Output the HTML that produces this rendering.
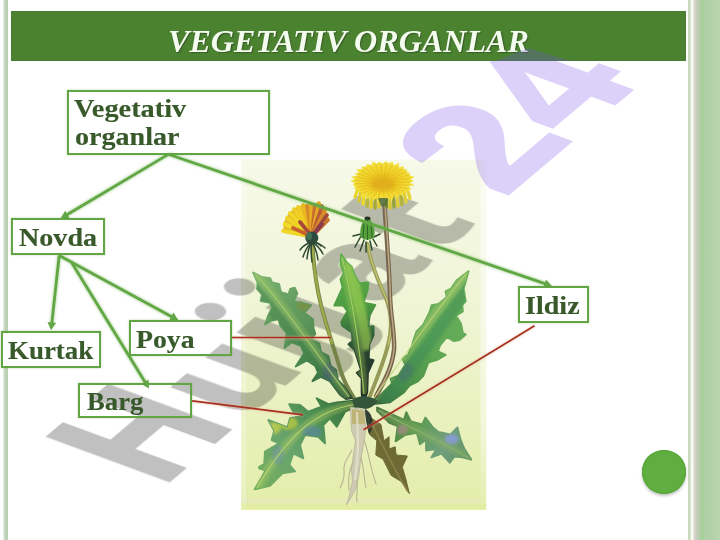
<!DOCTYPE html>
<html>
<head>
<meta charset="utf-8">
<title>Vegetativ organlar</title>
<style>
html,body{margin:0;padding:0;}
body{width:720px;height:540px;position:relative;overflow:hidden;background:#ffffff;font-family:"Liberation Serif",serif;}
.abs{position:absolute;}
#leftbar{left:3px;top:0;width:5px;height:540px;background:linear-gradient(to right,#f0f4ea 0%,#d2decb 25%,#bcd1b6 55%,#b8d0b4 100%);}
#rightbar{left:686px;top:0;width:34px;height:540px;
 background:linear-gradient(to right,
  #ffffff 0px,#ffffff 2px,
  #c9dcc0 2.5px,#c4d9bb 4px,
  #f4f8ee 5px,#fbfcf4 6.5px,
  #e6e6de 7.5px,#cfcfc6 9.5px,
  #bdccb4 12px,#a9cf9d 15.5px,#a4d098 17px,
  #b0d0a6 18.5px,#b2d1a8 24px,#b9d7ae 34px);}
#header{left:11px;top:11px;width:675px;height:50px;background:#4a8230;box-shadow:inset 0 0 0 1px #4c7a38;}
#title{left:168px;top:23.6px;transform:scaleX(1.02);height:36px;line-height:36px;white-space:nowrap;color:#f4fbef;font-weight:bold;font-style:italic;font-size:31.5px;
 transform-origin:0 50%;text-shadow:1px 1px 1px rgba(40,60,30,.55);}
.box{position:absolute;box-sizing:border-box;background:transparent;border:2px solid #62a545;box-shadow:0 0 2px rgba(98,165,69,.45);}
.lbl{position:absolute;white-space:nowrap;color:#38592a;-webkit-text-stroke:0.15px #38592a;font-weight:bold;font-size:25px;line-height:28px;transform-origin:0 0;}
</style>
</head>
<body>
<div id="leftbar" class="abs"></div>
<div id="rightbar" class="abs"></div>

<!-- PLANT -->
<svg id="pbg" class="abs" style="left:0;top:0" width="720" height="540" viewBox="0 0 720 540">
<defs>
<linearGradient id="bgp" x1="0" y1="0" x2="0" y2="1">
<stop offset="0" stop-color="#f7f9e9"/><stop offset="0.4" stop-color="#f0f5d7"/><stop offset="0.8" stop-color="#e8f0b9"/><stop offset="1" stop-color="#e3edaa"/>
</linearGradient>
<linearGradient id="bgs" x1="0" y1="0" x2="0" y2="1">
<stop offset="0" stop-color="#ffffff" stop-opacity="0.5"/><stop offset="0.75" stop-color="#ffffff" stop-opacity="0.45"/><stop offset="1" stop-color="#ffffff" stop-opacity="0"/>
</linearGradient>
</defs>
<rect x="241" y="159.6" width="245.2" height="350.2" fill="url(#bgp)"/>
<rect x="480.5" y="159.6" width="5.7" height="350.2" fill="url(#bgs)"/>
<rect x="241" y="159.6" width="5" height="350.2" fill="#ffffff" opacity="0.25"/>
<rect x="241" y="498.2" width="240" height="5.3" fill="#e6e8c8" opacity="0.4"/>
<rect x="241" y="503.5" width="245" height="6.3" fill="#e4ee96" opacity="0.4"/>
</svg>
<!-- WATERMARK -->
<svg id="wm" class="abs" style="left:0;top:0" width="720" height="540" viewBox="0 0 720 540">
<g transform="matrix(0.0568 -0.048 0.0876 0.0323 161.4 489.1)" font-family="Liberation Sans, sans-serif" font-weight="bold" font-size="2048">
<g opacity="0.25" fill="#000" stroke="#000" stroke-width="50" stroke-linejoin="miter">
<text transform="translate(41.6,-24) scale(0.879,0.966)">H</text>
<text transform="translate(1437,0) scale(0.882,0.8)">u</text>
<text transform="translate(2553,0) scale(1,0.8)">&#x237;</text>
<text transform="translate(3065,0) scale(1,0.8)">&#x237;</text>
<ellipse cx="2838" cy="-1280" rx="150" ry="150" stroke="none"/>
<ellipse cx="3350" cy="-1280" rx="150" ry="150" stroke="none"/>
<text transform="translate(3805.6,0) scale(0.824,0.8)">a</text>
<path transform="scale(1,-1)" stroke="none" d="M5300,1205 L5020,1205 L5020,870 L4880,870 L4880,650 L5020,650 L5020,240 Q5020,-25 5300,-25 Q5420,-25 5530,5 L5530,205 Q5450,185 5400,185 Q5300,185 5300,310 L5300,650 L5530,650 L5530,870 L5300,870 Z"/>
</g>
<g opacity="0.25" fill="#774bea" stroke="#774bea" stroke-width="50" stroke-linejoin="miter">
<text transform="translate(6066.5,-24) scale(1.092,0.966)">2</text>
<text transform="translate(7315.6,-24) scale(1.044,0.966)">4</text>
</g>
</g>
</svg>
<svg id="plant" class="abs" style="left:0;top:0" width="720" height="540" viewBox="0 0 720 540">
<!--PLANTBODY-->
<defs>
<filter id="soft" x="-5%" y="-5%" width="110%" height="110%"><feGaussianBlur stdDeviation="0.5"/></filter>
<filter id="soft2" x="-20%" y="-20%" width="140%" height="140%"><feGaussianBlur stdDeviation="1.6"/></filter>
<linearGradient id="gL" gradientUnits="userSpaceOnUse" x1="254" y1="273" x2="350" y2="398"><stop offset="0" stop-color="#7ab472"/><stop offset="0.3" stop-color="#669e60"/><stop offset="0.6" stop-color="#4e8a52"/><stop offset="0.85" stop-color="#386844"/><stop offset="1" stop-color="#2a4830"/></linearGradient>
<linearGradient id="gC" gradientUnits="userSpaceOnUse" x1="341" y1="255" x2="365" y2="395"><stop offset="0" stop-color="#5eac4c"/><stop offset="0.38" stop-color="#4e9c42"/><stop offset="0.55" stop-color="#356a3c"/><stop offset="0.7" stop-color="#27422e"/><stop offset="1" stop-color="#1f2a24"/></linearGradient>
<linearGradient id="gR" gradientUnits="userSpaceOnUse" x1="468" y1="272" x2="372" y2="402"><stop offset="0" stop-color="#6eb25e"/><stop offset="0.5" stop-color="#60a854"/><stop offset="0.8" stop-color="#4a9048"/><stop offset="1" stop-color="#34683a"/></linearGradient>
<linearGradient id="gLL" gradientUnits="userSpaceOnUse" x1="356" y1="403" x2="256" y2="489"><stop offset="0" stop-color="#2e6234"/><stop offset="0.25" stop-color="#4a8c50"/><stop offset="0.6" stop-color="#68a46c"/><stop offset="1" stop-color="#74ae5e"/></linearGradient>
<linearGradient id="gLR" gradientUnits="userSpaceOnUse" x1="378" y1="409" x2="471" y2="459"><stop offset="0" stop-color="#42703a"/><stop offset="0.4" stop-color="#5e9a52"/><stop offset="0.72" stop-color="#719f7e"/><stop offset="1" stop-color="#5f9460"/></linearGradient>
<radialGradient id="gF" cx="0.5" cy="0.5" r="0.6"><stop offset="0" stop-color="#e2ae1c"/><stop offset="0.4" stop-color="#efd026"/><stop offset="1" stop-color="#f5e540"/></radialGradient>
<clipPath id="cpL"><path d="M253.2,272.6 L261.4,277 L270.2,278.2 L272.1,282.6 L279,283.9 L280.9,292.1 L288.5,294.6 L290.3,288.9 L294.7,287.7 L297.3,293.3 L293.5,301.5 L300.4,302.2 L311.1,305.3 L304.2,312.9 L313,319.2 L313.6,328 L312.5,325.6 L315.3,333.9 L311.1,339.4 L319.4,343.6 L320.8,351.9 L328.5,356.1 L330.6,365.8 L336.1,370 L337.5,379.7 L344.4,386.7 L350,395 L352,398 L346,399 L340.3,395 L336.1,389.4 L329.9,381.1 L320.8,376.9 L312.5,381.1 L318.1,372.8 L315.3,365.8 L306.9,360.3 L295.8,366.5 L304.2,353.3 L300.7,345.7 L291.7,342.2 L284.7,347.8 L286.6,333 L280.3,325.5 L278.4,319.2 L272.1,320.4 L265.2,324.2 L268.3,315.4 L272.1,307.8 L270.2,302.8 L260.7,300.9 L262,294.6 L257,288.9 L257.6,282.6Z"/></clipPath>
<clipPath id="cpC"><path d="M341.2,254.2 L346.8,262.5 L351.7,266.7 L354.4,275 L359.3,283.3 L368.3,282.6 L367.6,290.3 L363.5,302.8 L375.3,304.9 L369.7,315.3 L368.3,325 L367.9,326.9 L373.5,326.2 L373.5,335.3 L369.3,344.3 L368.6,358.9 L373.5,360.3 L367.9,372.8 L367.2,392.2 L366,396 L362,396 L361.7,392.2 L361.7,378.3 L356.8,372.8 L361,370 L357.5,358.9 L354.7,349.9 L348.5,344.3 L352.6,340.8 L351.9,332.5 L342.2,325.6 L341.2,322.2 L347.5,311.1 L343.3,305.6 L334.3,305.6 L342.6,287.5 L340.6,279.2 L344,272.2 L340.6,265.3Z"/></clipPath>
<clipPath id="cpR"><path d="M468.5,271.2 L465.7,281.7 L463.6,288.6 L465.7,301.1 L462.2,305.3 L462.9,311.5 L456,315.7 L460.8,323.3 L462.9,333.1 L465.7,334.4 L459.4,340 L453.9,341.1 L446.9,336.9 L440,345.3 L437.9,351.5 L445.6,355 L437.2,359.9 L428.2,362.6 L423.3,375.8 L417.8,381.4 L409.4,385.6 L403.9,392.5 L390,402.2 L378.9,403.6 L372,404 L368,402 L370.6,400.8 L377.5,398.1 L384.4,391.1 L392.1,383.5 L390.7,378.6 L398.3,375.8 L405.3,364.7 L402.5,358.5 L408.1,355 L412.2,345.3 L413.6,340 L416.4,331.7 L423.3,324.7 L429.6,312.2 L431.7,305.3 L438.6,303.9 L446.9,296.9 L445.6,291.4 L451.1,288.6 L456.7,280.3Z"/></clipPath>
<clipPath id="cpLL"><path d="M356.7,401.7 L353.3,400.8 L336.7,402.5 L328.3,404.2 L316.7,398.3 L321.7,406.7 L308.3,411.7 L300,405 L289.2,404.2 L293.3,411.7 L303.3,415.8 L290,418.3 L287.5,427.5 L268.3,420 L274.2,430.8 L271.7,440 L279.2,443.3 L265,451.7 L264.2,465 L259.2,468.3 L266.7,470.8 L265.8,451.1 L265.1,463.6 L258.9,467.1 L265.8,469.9 L261.7,477.5 L254.7,489.3 L270,485.8 L276.9,478.9 L282.5,473.3 L295,471.3 L289.4,465 L293.3,453.3 L303.3,458.3 L300,445 L305,435 L318.3,436.7 L325,443.3 L323.3,425 L330,418.3 L336.7,426.7 L345,411.7 L356.7,406.7Z"/></clipPath>
<clipPath id="cpLR"><path d="M377.2,407.6 L391,413.8 L404,419.9 L406.3,412.2 L410.8,421.4 L422.3,424.4 L425.4,417.6 L432.2,426.7 L438.3,432.1 L450.6,434.4 L457.4,427.5 L460.5,439.7 L464.3,448.9 L471.2,459.6 L462.8,457.3 L454.4,456.5 L449.8,462.6 L441.4,453.5 L431.5,457.3 L436.8,448.9 L426.1,450.4 L426.1,439.7 L420,444.3 L416.9,432.8 L404.7,435.1 L395.6,441.3 L397.8,426 L389.4,422.9 L377.2,410.7Z"/></clipPath>
</defs>
<g filter="url(#soft)">
<g fill="none" stroke-linecap="round">
<path d="M312.4,246 C313.5,262 316,285 321,305 C326,325 333,345 341,372 C345,384 350,392 354,398" stroke="#76844a" stroke-width="4"/>
<path d="M312.4,246 C313.5,262 316,285 321,305 C324,318 328,330 332,343" stroke="#9caa48" stroke-width="2.4"/>
<path d="M367.5,244 C369,258 376,276 385,296 C392,312 392,330 388,345 C384,362 376,380 370,396" stroke="#979a58" stroke-width="3.9"/>
<path d="M367.8,244 C369.3,258 376.3,276 385.3,296 C392.3,312 392.3,330 388.3,345" stroke="#bcc070" stroke-width="1.6"/>
<path d="M384.5,205 C386,230 389,262 390,296 C391,320 395,335 394,350 C392,368 384,382 376,396" stroke="#77654f" stroke-width="4.5"/>
<path d="M385,205 C386.5,230 389.5,262 390.3,296 C391.3,320 395.3,335 394,350 C392,368 384,382 377,394" stroke="#bda984" stroke-width="1.5"/>
</g>
<path d="M253.2,272.6 L261.4,277 L270.2,278.2 L272.1,282.6 L279,283.9 L280.9,292.1 L288.5,294.6 L290.3,288.9 L294.7,287.7 L297.3,293.3 L293.5,301.5 L300.4,302.2 L311.1,305.3 L304.2,312.9 L313,319.2 L313.6,328 L312.5,325.6 L315.3,333.9 L311.1,339.4 L319.4,343.6 L320.8,351.9 L328.5,356.1 L330.6,365.8 L336.1,370 L337.5,379.7 L344.4,386.7 L350,395 L352,398 L346,399 L340.3,395 L336.1,389.4 L329.9,381.1 L320.8,376.9 L312.5,381.1 L318.1,372.8 L315.3,365.8 L306.9,360.3 L295.8,366.5 L304.2,353.3 L300.7,345.7 L291.7,342.2 L284.7,347.8 L286.6,333 L280.3,325.5 L278.4,319.2 L272.1,320.4 L265.2,324.2 L268.3,315.4 L272.1,307.8 L270.2,302.8 L260.7,300.9 L262,294.6 L257,288.9 L257.6,282.6Z" fill="url(#gL)" stroke="url(#gL)" stroke-width="2" stroke-linejoin="round"/>
<g clip-path="url(#cpL)">
<path d="M255,274 C280,300 310,345 349,397" fill="none" stroke="#a8cc6a" stroke-width="9" opacity="0.35" filter="url(#soft2)"/>
<path d="M250,284 C276,312 304,352 340,400" fill="none" stroke="#3f8048" stroke-width="11" opacity="0.45" filter="url(#soft2)"/><ellipse cx="306" cy="305" rx="9" ry="6" fill="#8a8a3a" opacity="0.55" filter="url(#soft2)"/><ellipse cx="329" cy="372" rx="6" ry="10" fill="#4a5a7a" opacity="0.5" filter="url(#soft2)"/>
</g>
<path d="M255,274 C280,300 310,345 349,397" fill="none" stroke="#a8cc6a" stroke-width="1.1" opacity="0.9"/>
<path d="M341.2,254.2 L346.8,262.5 L351.7,266.7 L354.4,275 L359.3,283.3 L368.3,282.6 L367.6,290.3 L363.5,302.8 L375.3,304.9 L369.7,315.3 L368.3,325 L367.9,326.9 L373.5,326.2 L373.5,335.3 L369.3,344.3 L368.6,358.9 L373.5,360.3 L367.9,372.8 L367.2,392.2 L366,396 L362,396 L361.7,392.2 L361.7,378.3 L356.8,372.8 L361,370 L357.5,358.9 L354.7,349.9 L348.5,344.3 L352.6,340.8 L351.9,332.5 L342.2,325.6 L341.2,322.2 L347.5,311.1 L343.3,305.6 L334.3,305.6 L342.6,287.5 L340.6,279.2 L344,272.2 L340.6,265.3Z" fill="url(#gC)" stroke="url(#gC)" stroke-width="2" stroke-linejoin="round"/>
<g clip-path="url(#cpC)">
<path d="M342,257 C350,290 358,330 364,394" fill="none" stroke="#a6d060" stroke-width="9" opacity="0.35" filter="url(#soft2)"/>
<path d="M349,262 C357,292 364,322 368,350" fill="none" stroke="#a6d452" stroke-width="10" opacity="0.6" filter="url(#soft2)"/>
</g>
<path d="M342,257 C350,290 358,330 364,394" fill="none" stroke="#a6d060" stroke-width="1.1" opacity="0.9"/>
<path d="M468.5,271.2 L465.7,281.7 L463.6,288.6 L465.7,301.1 L462.2,305.3 L462.9,311.5 L456,315.7 L460.8,323.3 L462.9,333.1 L465.7,334.4 L459.4,340 L453.9,341.1 L446.9,336.9 L440,345.3 L437.9,351.5 L445.6,355 L437.2,359.9 L428.2,362.6 L423.3,375.8 L417.8,381.4 L409.4,385.6 L403.9,392.5 L390,402.2 L378.9,403.6 L372,404 L368,402 L370.6,400.8 L377.5,398.1 L384.4,391.1 L392.1,383.5 L390.7,378.6 L398.3,375.8 L405.3,364.7 L402.5,358.5 L408.1,355 L412.2,345.3 L413.6,340 L416.4,331.7 L423.3,324.7 L429.6,312.2 L431.7,305.3 L438.6,303.9 L446.9,296.9 L445.6,291.4 L451.1,288.6 L456.7,280.3Z" fill="url(#gR)" stroke="url(#gR)" stroke-width="2" stroke-linejoin="round"/>
<g clip-path="url(#cpR)">
<path d="M467,273 C440,305 405,355 371,402" fill="none" stroke="#c2d678" stroke-width="9" opacity="0.35" filter="url(#soft2)"/>
<path d="M474,282 C448,315 418,360 384,404" fill="none" stroke="#3e8a58" stroke-width="12" opacity="0.5" filter="url(#soft2)"/><ellipse cx="405" cy="372" rx="7" ry="10" fill="#4a6a72" opacity="0.45" filter="url(#soft2)" transform="rotate(35 405 372)"/>
</g>
<path d="M467,273 C440,305 405,355 371,402" fill="none" stroke="#c2d678" stroke-width="1.1" opacity="0.9"/>
<path d="M356.7,401.7 L353.3,400.8 L336.7,402.5 L328.3,404.2 L316.7,398.3 L321.7,406.7 L308.3,411.7 L300,405 L289.2,404.2 L293.3,411.7 L303.3,415.8 L290,418.3 L287.5,427.5 L268.3,420 L274.2,430.8 L271.7,440 L279.2,443.3 L265,451.7 L264.2,465 L259.2,468.3 L266.7,470.8 L265.8,451.1 L265.1,463.6 L258.9,467.1 L265.8,469.9 L261.7,477.5 L254.7,489.3 L270,485.8 L276.9,478.9 L282.5,473.3 L295,471.3 L289.4,465 L293.3,453.3 L303.3,458.3 L300,445 L305,435 L318.3,436.7 L325,443.3 L323.3,425 L330,418.3 L336.7,426.7 L345,411.7 L356.7,406.7Z" fill="url(#gLL)" stroke="url(#gLL)" stroke-width="2" stroke-linejoin="round"/>
<g clip-path="url(#cpLL)">
<path d="M356,404 C320,410 290,430 257,488" fill="none" stroke="#b9d46a" stroke-width="9" opacity="0.35" filter="url(#soft2)"/>
<ellipse cx="288" cy="423" rx="10" ry="7" fill="#c3cf3e" opacity="0.7" filter="url(#soft2)"/><ellipse cx="274" cy="428" rx="7" ry="6" fill="#d0d648" opacity="0.7" filter="url(#soft2)"/><ellipse cx="312" cy="432" rx="10" ry="6" fill="#5a86a8" opacity="0.6" filter="url(#soft2)"/><ellipse cx="278" cy="455" rx="6" ry="10" fill="#6a8fa8" opacity="0.5" filter="url(#soft2)"/>
</g>
<path d="M356,404 C320,410 290,430 257,488" fill="none" stroke="#b9d46a" stroke-width="1.1" opacity="0.9"/>
<path d="M377.2,407.6 L391,413.8 L404,419.9 L406.3,412.2 L410.8,421.4 L422.3,424.4 L425.4,417.6 L432.2,426.7 L438.3,432.1 L450.6,434.4 L457.4,427.5 L460.5,439.7 L464.3,448.9 L471.2,459.6 L462.8,457.3 L454.4,456.5 L449.8,462.6 L441.4,453.5 L431.5,457.3 L436.8,448.9 L426.1,450.4 L426.1,439.7 L420,444.3 L416.9,432.8 L404.7,435.1 L395.6,441.3 L397.8,426 L389.4,422.9 L377.2,410.7Z" fill="url(#gLR)" stroke="url(#gLR)" stroke-width="2" stroke-linejoin="round"/>
<g clip-path="url(#cpLR)">
<path d="M378,410 C410,428 440,440 470,459" fill="none" stroke="#8fb46a" stroke-width="9" opacity="0.35" filter="url(#soft2)"/>
<ellipse cx="402" cy="430" rx="6" ry="5" fill="#b08a8a" opacity="0.7" filter="url(#soft2)"/><ellipse cx="452" cy="439" rx="7" ry="5" fill="#8c9be0" opacity="0.8" filter="url(#soft2)"/>
</g>
<path d="M378,410 C410,428 440,440 470,459" fill="none" stroke="#8fb46a" stroke-width="1.1" opacity="0.9"/>
<path d="M371,418 L380.9,424.4 L384,440.7 L389.1,436.7 L389.1,448.9 L395.2,446.8 L396.2,455 L407.4,456 L402.3,467.2 L405.4,477.4 L409.4,493.7 L401.3,481.5 L391.1,475.4 L389.1,471.3 L383,459.1 L375.8,455 L376.8,440.7 L369.7,434.6 L368,428Z" fill="#6e6a34" stroke="#6e6a34" stroke-width="1" stroke-linejoin="round"/>
<path d="M372,424 C382,445 395,470 408,492" fill="none" stroke="#8f8a4a" stroke-width="1.6" opacity="0.8"/>
<path d="M352,400 C358,395 370,395 378,401 C375,405 371,408 366,409 L354,407 Z" fill="#35553a"/>
<path d="M365,409 C369,411 372,415 372.5,421 C373,427 371,432 369,434 C367,428 366,420 365,414 Z" fill="#1f2d22" opacity="0.9"/>
<path d="M350.4,407 L351.4,430.5 L355.5,440.7 L353.4,455 L351.4,469.2 L352.4,481.5 L349.3,495.7 L346.3,505 L350.4,498.8 L355.5,489.6 L358.5,477.4 L360.5,461.1 L363.6,444.8 L365.6,430.5 L364.6,410Z" fill="#cfcab2" stroke="#b9b49a" stroke-width="0.8"/>
<path d="M352,409 L364,411 L365,424 L352,424 Z" fill="#b9ae6a" opacity="0.8"/>
<path d="M357,412 C358,435 359,455 355,480" fill="none" stroke="#e6e2cc" stroke-width="2.2" opacity="0.8"/>
<g fill="none" stroke="#b9b492" stroke-width="1.1" stroke-linecap="round">
<path d="M352,450 C348,458 343,462 344,472 C345,478 342,484 340,488"/>
<path d="M353,462 C349,470 348,480 349,490"/>
<path d="M364,440 C368,450 369,460 372,470 C373,476 375,480 376,484"/>
<path d="M361,458 C364,468 364,478 366,488"/>
<path d="M357,480 C358,488 356,496 357,502"/>
</g>
<g stroke-linecap="round" fill="none">
<path d="M358,188 L355,197" stroke="#e8d62e" stroke-width="3.3"/>
<path d="M361.5,188 L359,201" stroke="#d8c832" stroke-width="3.3"/>
<path d="M365,188 L363,204" stroke="#ecd82c" stroke-width="3.3"/>
<path d="M368.5,188 L367,206" stroke="#b9b83a" stroke-width="3.3"/>
<path d="M372,188 L371,207.5" stroke="#e6d02a" stroke-width="3.3"/>
<path d="M375.5,188 L375,208" stroke="#a4aa38" stroke-width="3.3"/>
<path d="M379,188 L379,207" stroke="#e0cc2c" stroke-width="3.3"/>
<path d="M386,188 L386.5,207" stroke="#7b8a36" stroke-width="3.3"/>
<path d="M389.5,188 L390,208" stroke="#d9c92e" stroke-width="3.3"/>
<path d="M393,188 L394,207" stroke="#9aa23a" stroke-width="3.3"/>
<path d="M396.5,188 L398,206" stroke="#e4d030" stroke-width="3.3"/>
<path d="M400,188 L402,204.5" stroke="#b4b43a" stroke-width="3.3"/>
<path d="M403.5,188 L406,202" stroke="#e2d030" stroke-width="3.3"/>
<path d="M407,188 L410,198.5" stroke="#e6d634" stroke-width="3.3"/>
</g>
<path d="M413.2,181 L408.9,182.7 L413.6,185.1 L407.6,186 L411.2,188.9 L406,189.4 L406.7,191.8 L403,192.4 L402.5,194.7 L398.6,194.7 L397.5,197 L393.3,195.9 L392.2,199.2 L388.5,198.2 L385.7,199.5 L382.6,197.5 L379.3,200.4 L376.6,198.4 L372.9,199.5 L371.6,196.4 L366.3,198.5 L367.2,194.1 L361,195.9 L362.6,192.1 L358.3,191.9 L359.8,189.2 L354.7,188.7 L355.7,186.4 L353.1,184.9 L355.1,182.8 L351,181 L355.7,179.2 L351.9,177 L357.7,176 L355.4,173.5 L359.5,172.8 L356.9,169.4 L362.4,169.7 L362.1,166.9 L366.3,167.1 L367.1,164.4 L371.7,165.8 L372.7,162.1 L376.8,164 L379.4,162.3 L382.6,163.9 L385.9,161.8 L388.5,163.8 L392.5,162.2 L393.5,165.8 L398.9,163.5 L398.1,167.8 L403.3,166.8 L403.5,169.3 L406.9,170.1 L406.3,172.5 L409.8,173.5 L409.1,175.7 L413.9,176.9 L410.1,179.2Z" fill="url(#gF)" stroke="#f2e03a" stroke-width="0.8" stroke-linejoin="round"/>
<g stroke="#d9a51a" stroke-width="0.9" opacity="0.5" fill="none">
<path d="M388.9,183.2 L410.3,181.9"/>
<path d="M388.7,184 L409.4,185.4"/>
<path d="M388.2,184.8 L407.3,188.8"/>
<path d="M387.5,185.4 L404.2,191.8"/>
<path d="M386.6,186 L400.1,194.3"/>
<path d="M385.5,186.5 L395.2,196.3"/>
<path d="M384.2,186.8 L389.8,197.6"/>
<path d="M382.9,186.9 L384.1,198.1"/>
<path d="M381.6,186.9 L378.3,198"/>
<path d="M380.4,186.6 L372.7,197"/>
<path d="M379.2,186.3 L367.6,195.4"/>
<path d="M378.2,185.8 L363,193.2"/>
<path d="M377.3,185.1 L359.4,190.4"/>
<path d="M376.7,184.4 L356.7,187.2"/>
<path d="M376.4,183.6 L355.2,183.7"/>
<path d="M376.3,182.8 L354.9,180.1"/>
<path d="M376.5,182 L355.8,176.6"/>
<path d="M377,181.2 L357.9,173.2"/>
<path d="M377.7,180.6 L361,170.2"/>
<path d="M378.6,180 L365.1,167.7"/>
<path d="M379.7,179.5 L370,165.7"/>
<path d="M381,179.2 L375.4,164.4"/>
<path d="M382.3,179.1 L381.1,163.9"/>
<path d="M383.6,179.1 L386.9,164"/>
<path d="M384.8,179.4 L392.5,165"/>
<path d="M386,179.7 L397.6,166.6"/>
<path d="M387,180.2 L402.2,168.8"/>
<path d="M387.9,180.9 L405.8,171.6"/>
<path d="M388.5,181.6 L408.5,174.8"/>
<path d="M388.8,182.4 L410,178.3"/>
</g>
<ellipse cx="383" cy="186" rx="12" ry="6" fill="#dba21a" opacity="0.45" filter="url(#soft2)"/>
<path d="M378,198 L388,198 L386.5,206 L381,206 Z" fill="#55703a" opacity="0.9"/>
<path d="M311.8,237.5 L284,232 L285,222 L290,213 L298,207.5 L306,205 L319,203.5 L325,209 L328,219 L323,226 Z" fill="#e6bd2a" stroke="#e6bd2a" stroke-width="2" stroke-linejoin="round"/>
<path d="M311.8,237.5 L300,215 L306,207 L318,206 L326,214 L326,222 Z" fill="#c9702c" opacity="0.55"/>
<g stroke-linecap="round" fill="none">
<path d="M311.8,236.5 L283,231" stroke="#f0d82a" stroke-width="3.8"/>
<path d="M311.8,236.5 L284.5,224" stroke="#f2dc2c" stroke-width="3.8"/>
<path d="M311.8,236.5 L287,218" stroke="#efd428" stroke-width="3.8"/>
<path d="M311.8,236.5 L290,213" stroke="#f1d62a" stroke-width="3.8"/>
<path d="M311.8,236.5 L294,209" stroke="#eecf26" stroke-width="3.8"/>
<path d="M311.8,236.5 L298,207" stroke="#f0cc24" stroke-width="3.8"/>
<path d="M311.8,236.5 L303,205" stroke="#e9b822" stroke-width="3.8"/>
<path d="M311.8,236.5 L307,206" stroke="#d98a2a" stroke-width="3.8"/>
<path d="M311.8,236.5 L311,204" stroke="#e8b020" stroke-width="3.8"/>
<path d="M311.8,236.5 L315,205" stroke="#c96a30" stroke-width="3.8"/>
<path d="M311.8,236.5 L319,203" stroke="#e4a824" stroke-width="3.8"/>
<path d="M311.8,236.5 L322,206" stroke="#b85a34" stroke-width="3.8"/>
<path d="M311.8,236.5 L325,210" stroke="#d88a2c" stroke-width="3.8"/>
<path d="M311.8,236.5 L327,215" stroke="#a04a3a" stroke-width="3.8"/>
<path d="M311.8,236.5 L328,220" stroke="#c8742e" stroke-width="3.8"/>
<path d="M311.8,236.5 L322,224" stroke="#8a3a48" stroke-width="3.8"/>
<path d="M311.8,236.5 L300,222" stroke="#a84a3a" stroke-width="3.8"/>
<path d="M311.8,236.5 L293,228" stroke="#c8642e" stroke-width="3.8"/>
</g>
<ellipse cx="311.8" cy="238" rx="6.5" ry="6.5" fill="#2f4a3e"/>
<ellipse cx="309" cy="236" rx="3" ry="4" fill="#4a7a5a" opacity="0.8"/>
<g stroke="#2f4a34" stroke-width="1.5" stroke-linecap="round" fill="none">
<path d="M311.8,242 Q305.9,247.5 303,257"/>
<path d="M311.8,242 Q307.9,248.5 307,259"/>
<path d="M311.8,242 Q310.4,250 312,262"/>
<path d="M311.8,242 Q316.4,249 318,260"/>
<path d="M311.8,242 Q318.9,246 323,254"/>
<path d="M311.8,242 Q319.9,243 325,248"/>
<path d="M311.8,242 Q304.4,244 300,250"/>
<path d="M311.8,242 Q317.9,242 321,246"/>
</g>
<g stroke="#2f4a2c" stroke-width="1.5" stroke-linecap="round" fill="none">
<path d="M361,234 L353,236"/>
<path d="M361,236 L355,247"/>
<path d="M364,240 L360,251"/>
<path d="M370,241 L372,250"/>
<path d="M374,237 L380,234"/>
<path d="M373,239 L377,246"/>
<path d="M366,242 L366,252"/>
</g>
<path d="M367.5,217 C372,220 375.5,228 374.5,236 C373,241 362,241 360.5,236 C359.5,228 362,220 367.5,217 Z" fill="#57a03a"/>
<path d="M364,222 L363,238 M367.5,219 L367.5,240 M371,222 L372,238" stroke="#2f6a2c" stroke-width="1.1" fill="none"/>
<ellipse cx="367.5" cy="218.5" rx="3" ry="2" fill="#22331f"/>
</g>
<!--/PLANTBODY-->
</svg>

<!-- LINES -->
<svg id="lines" class="abs" style="left:0;top:0" width="720" height="540" viewBox="0 0 720 540">
<defs><filter id="lsh" x="-5%" y="-5%" width="110%" height="110%"><feGaussianBlur stdDeviation="1.1"/></filter></defs>
<g stroke="#7dbb5f" stroke-width="4.5" fill="none" opacity="0.45" filter="url(#lsh)">
<line x1="168.3" y1="154.4" x2="66.5" y2="215.0"/>
<line x1="168.3" y1="154.2" x2="545.6" y2="283.9"/>
<line x1="59.2" y1="255.5" x2="51.8" y2="323.3"/>
<line x1="59.2" y1="255.5" x2="172.2" y2="316.9"/>
<line x1="71.0" y1="261.5" x2="145.3" y2="382.5"/>
</g>
<g stroke="#62a745" stroke-width="2.8" fill="none" stroke-linecap="butt">
<line x1="168.3" y1="154.4" x2="66.5" y2="215.0"/>
<line x1="168.3" y1="154.2" x2="545.6" y2="283.9"/>
<line x1="59.2" y1="255.5" x2="51.8" y2="323.3"/>
<line x1="59.2" y1="255.5" x2="172.2" y2="316.9"/>
<line x1="71.0" y1="261.5" x2="145.3" y2="382.5"/>
</g>
<g fill="#62a745">
<polygon points="60.5,218.6 65.1,210.7 69.6,218.3"/>
<polygon points="552.2,286.2 543.2,287.8 546.1,279.4"/>
<polygon points="51.0,330.3 47.5,321.9 56.2,322.8"/>
<polygon points="178.4,320.2 169.3,320.3 173.5,312.5"/>
<polygon points="149.0,388.5 141.1,384.0 148.6,379.4"/>
</g>
<g stroke="#e9b9a8" stroke-width="3.2" fill="none" opacity="0.5" filter="url(#lsh)">
<line x1="232" y1="337.8" x2="331" y2="337.8"/>
<line x1="192" y1="401" x2="303" y2="415"/>
<line x1="534.5" y1="326" x2="363.5" y2="430"/>
</g>
<g stroke="#a5301c" stroke-width="1.7" fill="none">
<line x1="232" y1="337.5" x2="331" y2="337.5"/>
<line x1="192" y1="400.8" x2="303" y2="414.8"/>
<line x1="534.5" y1="325.8" x2="363.5" y2="429.8"/>
</g>
</svg>

<!-- BOXES -->
<div class="box" style="left:67px;top:90px;width:203.2px;height:64.5px"></div>
<div class="lbl" id="t1" style="left:74px;top:95px;transform:scaleX(1.133)">Vegetativ</div>
<div class="lbl" id="t2" style="left:75px;top:122.5px;transform:scaleX(1.124)">organlar</div>
<div class="box" style="left:11px;top:218.3px;width:94px;height:37.2px"></div>
<div class="lbl" id="t3" style="left:18.8px;top:224.2px;transform:scaleX(1.125)">Novda</div>
<div class="box" style="left:0.5px;top:330.8px;width:100.7px;height:37px;background:#fff"></div>
<div class="lbl" id="t4" style="left:8.3px;top:336.6px;transform:scaleX(1.077)">Kurtak</div>
<div class="box" style="left:128.9px;top:320.2px;width:102.8px;height:35.7px"></div>
<div class="lbl" id="t5" style="left:136.2px;top:325.8px;transform:scaleX(1.11)">Poya</div>
<div class="box" style="left:78.2px;top:382.6px;width:113.6px;height:35.8px"></div>
<div class="lbl" id="t6" style="left:86.5px;top:387.6px;transform:scaleX(1.067)">Barg</div>
<div class="box" style="left:517.6px;top:286px;width:71px;height:36.8px"></div>
<div class="lbl" id="t7" style="left:524.8px;top:291.5px;transform:scaleX(1.123)">Ildiz</div>

<!-- CIRCLE -->
<div class="abs" style="left:642px;top:450px;width:43.5px;height:43.5px;border-radius:50%;background:#5fae3f;box-shadow:0 2px 3px rgba(120,120,120,.45), inset 0 0 0 1px #5aa43c;"></div>


<div id="header" class="abs"></div>
<div id="title" class="abs">VEGETATIV ORGANLAR</div>
<svg class="abs" style="left:0;top:0" width="720" height="540" viewBox="0 0 720 540"><polygon points="496,61 528,48 571,61" fill="#774bea" opacity="0.25"/></svg>
</body>
</html>
